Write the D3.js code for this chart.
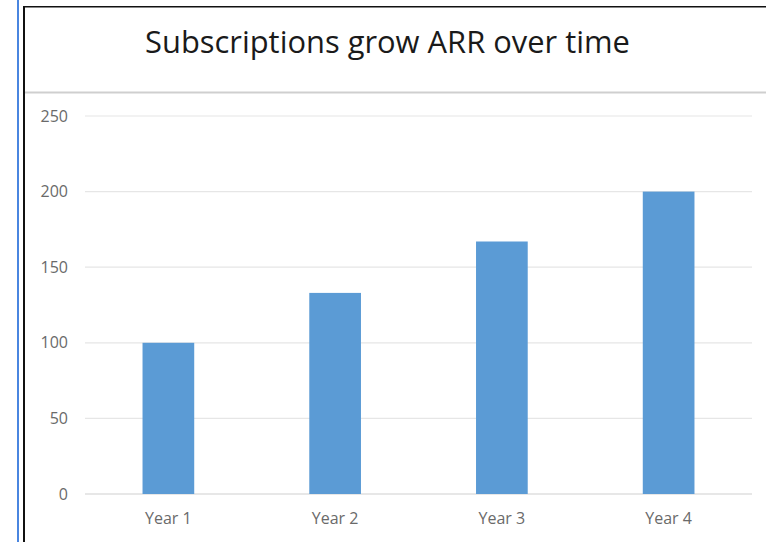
<!DOCTYPE html>
<html>
<head>
<meta charset="utf-8">
<script src="https://cdn.jsdelivr.net/npm/d3@7/dist/d3.min.js"></script>
<style>
  html, body { margin: 0; padding: 0; background: #fff; }
  svg { display: block; }
</style>
</head>
<body>
<svg id="chart" width="766" height="542"></svg>
<script>
// Chart data
const categories = ["Year 1", "Year 2", "Year 3", "Year 4"];
const values = [100, 133, 167, 200];
const yTicks = [0, 50, 100, 150, 200, 250];
const title = "Subscriptions grow ARR over time";

const W = 766, H = 542;
const svg = d3.select("#chart");
const font = "'Open Sans', sans-serif";

// Frame: blue margin rule, black border, title separator
svg.append("rect").attr("x", 17).attr("y", 0).attr("width", 2).attr("height", H).attr("fill", "#4a86e0");
svg.append("rect").attr("x", 23).attr("y", 6).attr("width", 2).attr("height", H - 6).attr("fill", "#111");
svg.append("rect").attr("x", 23).attr("y", 6).attr("width", W - 23).attr("height", 1.5).attr("fill", "#111");
svg.append("rect").attr("x", 25).attr("y", 91.5).attr("width", W - 25).attr("height", 2).attr("fill", "#cfcfcf");

// Title, sized to span its slot in the header
const titleText = svg.append("text")
  .attr("x", 387.5).attr("y", 53)
  .attr("text-anchor", "middle")
  .attr("font-family", font)
  .attr("font-size", 28)
  .style("font-variant-ligatures", "none")
  .attr("fill", "#1a1a1a")
  .text(title);
const tw = titleText.node().getComputedTextLength();
titleText.attr("font-size", 28 * 485 / tw);

// Scales
const x = d3.scaleBand().domain(categories).range([85, 752]).paddingInner(0.69).paddingOuter(0.345);
const y = d3.scaleLinear().domain([0, 250]).range([494, 116]);

// Gridlines
svg.append("g")
  .selectAll("line")
  .data(yTicks)
  .join("line")
  .attr("x1", 85).attr("x2", 752)
  .attr("y1", d => y(d)).attr("y2", d => y(d))
  .attr("stroke", d => d === 0 ? "#d0d0d0" : "#e6e6e6")
  .attr("stroke-width", 1.2);

// Y axis labels
const yAxis = d3.axisLeft(y).tickValues(yTicks).tickSize(0).tickPadding(0);
svg.append("g")
  .attr("transform", "translate(68,0)")
  .call(yAxis)
  .call(g => g.select(".domain").remove())
  .call(g => g.selectAll("text")
    .attr("font-family", font)
    .attr("font-size", 16)
    .attr("fill", "#6a6a6a"));

// Bars
svg.append("g")
  .selectAll("rect")
  .data(values)
  .join("rect")
  .attr("x", (d, i) => x(categories[i]))
  .attr("width", x.bandwidth())
  .attr("y", d => y(d))
  .attr("height", d => y(0) - y(d))
  .attr("fill", "#5b9bd5");

// X axis labels
const xAxis = d3.axisBottom(x).tickSize(0).tickPadding(0);
svg.append("g")
  .attr("transform", "translate(0,513)")
  .call(xAxis)
  .call(g => g.select(".domain").remove())
  .call(g => g.selectAll("text")
    .attr("font-family", font)
    .attr("font-size", 16)
    .attr("fill", "#6a6a6a"));
</script>
</body>
</html>
